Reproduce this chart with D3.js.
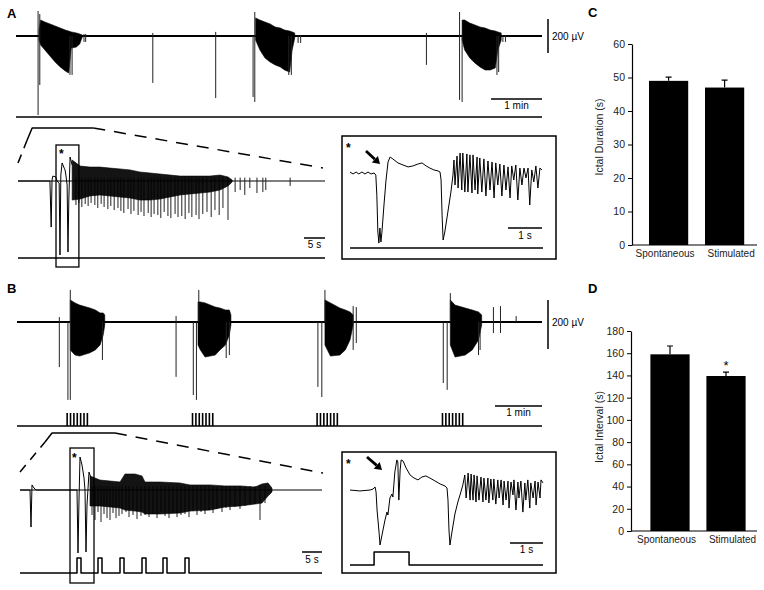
<!DOCTYPE html>
<html>
<head>
<meta charset="utf-8">
<script src="https://cdn.jsdelivr.net/npm/d3@7/dist/d3.min.js"></script>
<style>
body { margin: 0; background: #fff; }
svg { display: block; font-family: "Liberation Sans", Arial, sans-serif; }
</style>
</head>
<body>
<div id="chart"></div>
<script>
// ---- panel A, long recording (t in s, v in uV) ----
const A1_span = [0, 619]
const A1_bursts = [
    [[27,35,-24],[29,94,-53],[34,82,-82],[40,71,-118],[46,59,-153],[52,47,-182],[58,35,-206],[62,29,-218],[65,24,-71],[71,18,-65],[75,12,-47],[78,6,-6]],
    [[282,106,-24],[287,94,-82],[293,82,-129],[299,71,-153],[305,53,-170],[311,47,-182],[316,35,-200],[322,29,-212],[325,24,-82],[328,18,-12]],
    [[525,94,-24],[528,94,-82],[534,76,-129],[540,65,-159],[546,53,-182],[552,47,-200],[558,35,-200],[564,29,-188],[567,24,-82],[571,18,-24]]
]
const A1_spikes = [[26,-465,147],[28,-288,129],[63.5,-229,0],[66,-229,0],[80,-35,12],[82,-35,12],[161,-276,18],[235,-365,24],
    [279,-359,0],[281,-388,141],[321,-229,0],[324,-229,0],[332,-41,6],[335,-41,6],[483,-170,18],[522,-376,141],[525,-388,0],
    [566,-229,0],[568,-212,0],[573,-35,6],[576,-35,6]]
const A_zoomWindow = [19, 91]

// ---- panel A, expanded seizure ----
const A2_span = [0, 73.1]
const A2_onset = [[0,0],[7.6,0],[7.9,-271],[8.1,6],[8.3,29],[9.0,24],[9.3,0],[9.8,-12],[10.0,-435],[10.2,35],[10.5,106],
    [11.0,76],[11.2,65],[11.4,35],[11.7,-24],[11.9,-418],[12.1,-112],[12.4,141],[12.9,94]]
const A2_core = [[12.9,123,-112],[14.8,88,-106],[17.1,82,-88],[19.5,82,-82],[21.9,76,-88],[24.3,71,-94],[26.7,65,-100],
    [29.0,53,-112],[31.4,47,-112],[33.8,41,-106],[36.2,35,-94],[38.6,29,-82],[41.0,29,-76],[43.3,29,-71],[45.7,29,-65],
    [48.1,35,-53],[50.0,24,-29],[51.0,6,-6]]
const A2_spikes = [[13.8,-141],[14.5,-129],[15.2,-153],[16.0,-135],[16.7,-147],[17.4,-129],[18.3,-141],[19.0,-159],[19.8,-135],
    [20.5,-153],[21.4,-165],[22.1,-147],[22.9,-171],[23.8,-159],[24.5,-176],[25.2,-188],[26.2,-165],[26.9,-194],[27.6,-176],
    [28.6,-200],[29.3,-182],[30.0,-206],[31.0,-188],[31.7,-212],[32.4,-194],[33.3,-200],[34.0,-218],[34.8,-182],[35.7,-206],
    [36.4,-218],[37.4,-194],[38.1,-212],[39.0,-206],[39.8,-224],[40.7,-188],[41.4,-212],[42.4,-200],[43.1,-224],[44.0,-194],
    [45.0,-182],[46.0,-212],[46.9,-171],[47.9,-200],[48.8,-159],[50.0,-229],[51.7,-65],[52.9,-53],[54.0,-82],[55.2,-41],
    [56.9,-71],[58.3,-65],[59.0,-53],[64.8,-29]]
const A_insetWindow = [9.05, 14.5]

// ---- panel A, inset ----
const A3_span = [0, 5.68]
const A3_trace = [[0,6],[0.09,-6],[0.18,6],[0.26,-6],[0.35,6],[0.44,-6],[0.53,6],[0.62,-6],[0.71,0],[0.76,-13],[0.79,-138],
    [0.82,-369],[0.85,-438],[0.88,-344],[0.91,-431],[0.94,-369],[1.0,-200],[1.06,-44],[1.12,69],[1.18,100],[1.26,88],[1.41,63],
    [1.56,50],[1.71,38],[1.85,44],[2.0,56],[2.12,63],[2.24,44],[2.35,31],[2.47,19],[2.59,13],[2.65,6],[2.68,-44],[2.71,-263],
    [2.74,-419],[2.79,-369],[2.88,-244],[2.97,-119],[3.03,-13],[3.06,81],[3.09,-75],[3.15,106],[3.18,-94],[3.24,125],[3.29,-106],
    [3.32,125],[3.38,-119],[3.44,119],[3.47,-119],[3.53,113],[3.59,-125],[3.62,113],[3.68,-106],[3.74,100],[3.76,-131],[3.82,94],
    [3.88,-119],[3.94,88],[4.0,-144],[4.06,75],[4.12,-106],[4.18,69],[4.24,-156],[4.29,63],[4.35,-75],[4.41,56],[4.47,-144],
    [4.53,50],[4.59,-106],[4.65,38],[4.71,-156],[4.76,44],[4.82,-44],[4.88,50],[4.94,-169],[5.0,31],[5.06,-75],[5.12,31],
    [5.18,-31],[5.24,31],[5.29,-200],[5.35,19],[5.41,-56],[5.47,44],[5.53,-94],[5.59,31],[5.65,19]]

// ---- panel B, long recording ----
const B1_span = [0, 670]
const B1_bursts = [
    [[68,90,-114],[74,78,-135],[80,69,-139],[93,57,-126],[100,49,-114],[106,37,-94],[110,37,-53],[112,29,-12]],
    [[231,82,-94],[234,82,-114],[240,78,-143],[253,61,-135],[259,57,-114],[266,49,-94],[271,49,-53],[273,29,-12]],
    [[393,90,-94],[400,78,-139],[412,57,-135],[419,49,-114],[425,41,-73],[429,29,-12]],
    [[553,90,-94],[559,69,-143],[572,57,-135],[581,49,-114],[589,41,-73],[593,29,-12]]
]
const B1_spikes = [[54,-184,20],[65,-318,0],[68,-318,131],[109,-155,0],[203,-224,24],[225,-298,0],[229,-318,0],[232,0,131],
    [267,-147,0],[271,-135,0],[384,-265,0],[389,-306,0],[393,0,131],[429,-114,65],[433,-86,61],[544,-249,0],[549,-277,0],
    [553,0,118],[589,-135,0],[591,-114,0],[608,-45,61],[617,-45,65],[637,0,24]]
const B1_trainStarts = [64, 224, 383, 543]
const B1_pulseOffsets = [0, 4.3, 8.6, 12.9, 17.2, 21.5, 25.8]
const B_zoomWindow = [44.7, 125]

// ---- panel B, expanded seizure ----
const B2_span = [0, 75.5]
const B2_onset = [[0,0],[2.5,0],[2.75,-190],[3.0,26],[3.5,10],[4.0,0],[14.25,0],[14.5,-323],[14.75,-51],[15.0,169],[15.5,128],
    [16.0,62],[16.25,0],[16.5,-318],[16.75,-77],[17.25,92],[17.75,62]]
const B2_core = [[17.5,72,-82],[20,51,-82],[22.5,46,-87],[25,41,-92],[26.25,82,-103],[28.75,82,-108],[30.5,72,-113],
    [31.25,41,-123],[35,41,-123],[40,36,-118],[42.5,26,-108],[47.5,26,-103],[51.25,21,-87],[55,21,-82],[58.75,15,-72],
    [60.5,31,-67],[62,36,-31],[63,10,-10]]
const B2_spikes = [[18,-128],[18.75,-154],[19.5,-113],[20.25,-164],[21,-123],[21.75,-144],[22.5,-154],[23.25,-118],[24,-144],
    [24.75,-133],[25.5,-123],[26.5,-113],[27.25,-139],[28.25,-128],[29.25,-149],[30.25,-133],[31.25,-128],[32.25,-139],
    [33.25,-123],[34.25,-144],[35.25,-113],[36.25,-133],[37.25,-144],[38.25,-118],[39.25,-139],[40.25,-128],[41.25,-123],
    [42.25,-139],[43.25,-108],[44.25,-128],[45.25,-113],[46.25,-123],[47.25,-103],[48.25,-118],[49.25,-97],[50.5,-113],
    [51.5,-92],[52.5,-103],[53.75,-87],[55,-97],[56.25,-82],[57.5,-77],[58.75,-72],[60,-154],[61.25,-67]]
const B2_pulses = [14.25, 19.5, 25, 30.5, 35.75, 41.25]
const B_insetWindow = [12.5, 18.5]

// ---- panel B, inset ----
const B3_span = [0, 5.85]
const B3_trace = [[0,0],[0.30,-6],[0.61,0],[0.70,6],[0.76,19],[0.79,-13],[0.82,-125],[0.88,-263],[0.91,-344],[0.97,-281],
    [1.06,-188],[1.12,-138],[1.15,-156],[1.21,-50],[1.27,-25],[1.30,-44],[1.36,113],[1.42,188],[1.45,175],[1.48,-63],
    [1.52,125],[1.55,188],[1.61,181],[1.70,138],[1.82,94],[1.94,75],[2.06,63],[2.18,81],[2.30,88],[2.42,75],[2.58,56],
    [2.73,38],[2.88,25],[2.94,13],[2.97,-63],[3.00,-250],[3.03,-344],[3.09,-263],[3.18,-150],[3.27,-75],[3.36,-13],[3.42,31],
    [3.48,94],[3.52,-50],[3.58,106],[3.64,-63],[3.67,100],[3.73,-63],[3.76,94],[3.82,-75],[3.85,88],[3.91,-63],[3.97,81],
    [4.03,-75],[4.06,75],[4.12,-63],[4.18,75],[4.21,-81],[4.27,69],[4.33,-63],[4.36,69],[4.42,-88],[4.48,63],[4.52,-50],
    [4.58,63],[4.64,-94],[4.67,56],[4.73,-63],[4.79,56],[4.82,-113],[4.88,50],[4.94,-31],[4.97,63],[5.03,-125],[5.09,50],
    [5.12,-50],[5.18,56],[5.24,-138],[5.30,44],[5.33,-63],[5.39,63],[5.45,-113],[5.48,44],[5.55,-50],[5.61,56],[5.64,-94],
    [5.70,50],[5.76,-50],[5.79,63],[5.85,44]]
const B3_pulse = [0.73, 1.79]

// ---- panels C and D ----
const categories = ["Spontaneous", "Stimulated"]
const durationMeans = [49, 47]
const durationErrors = [1.1, 2.2]
const durationTicks = [0, 10, 20, 30, 40, 50, 60]
const intervalMeans = [159, 139.5]
const intervalErrors = [7.5, 3.5]
const intervalTicks = [0, 20, 40, 60, 80, 100, 120, 140, 160, 180]

const svg = d3.select("#chart").append("svg")
    .attr("width", 764)
    .attr("height", 590)

svg.append("rect").attr("width", 764).attr("height", 590).attr("fill", "#fff")

function linePath(x, y) {
    return d3.line().x(d => x(d[0])).y(d => y(d[1]))
}

function drawPolyline(pts, x, y, width, dash) {
    svg.append("path").datum(pts)
        .attr("d", linePath(x, y))
        .attr("fill", "none")
        .attr("stroke", "#000")
        .attr("stroke-width", width)
        .attr("stroke-linejoin", "round")
        .attr("stroke-dasharray", dash || null)
}

function drawBursts(bursts, x, y, opacity) {
    const area = d3.area().x(d => x(d[0])).y0(d => y(d[2])).y1(d => y(d[1]))
    svg.append("g").selectAll("path")
        .data(bursts)
        .join("path")
        .attr("d", area)
        .attr("fill", "#000")
        .attr("fill-opacity", opacity || 1)
        .attr("stroke", "#000")
        .attr("stroke-width", 0.6)
}

function drawSpikes(spikes, x, y, top, color) {
    svg.append("g").selectAll("line")
        .data(spikes)
        .join("line")
        .attr("x1", d => x(d[0]))
        .attr("x2", d => x(d[0]))
        .attr("y1", d => y(d[1]))
        .attr("y2", d => y(d.length > 2 ? d[2] : top))
        .attr("stroke", color)
        .attr("stroke-width", 1)
}

function label(x, y, txt, size, anchor, weight) {
    svg.append("text")
        .attr("x", x).attr("y", y)
        .attr("font-size", size)
        .attr("text-anchor", anchor || "start")
        .attr("font-weight", weight || "normal")
        .text(txt)
}

function hbar(x0, x1, y) {
    svg.append("line").attr("x1", x0).attr("x2", x1).attr("y1", y).attr("y2", y)
        .attr("stroke", "#000").attr("stroke-width", 1.5)
}

function vbar(x, y0, y1) {
    svg.append("line").attr("x1", x).attr("x2", x).attr("y1", y0).attr("y2", y1)
        .attr("stroke", "#000").attr("stroke-width", 1.5)
}

function arrow(x0, y0, x1, y1) {
    const len = Math.hypot(x1 - x0, y1 - y0)
    const ux = (x1 - x0) / len, uy = (y1 - y0) / len
    const bx = x1 - ux * 7, by = y1 - uy * 7
    svg.append("line").attr("x1", x0).attr("y1", y0).attr("x2", bx).attr("y2", by)
        .attr("stroke", "#000").attr("stroke-width", 2.8)
    svg.append("path")
        .attr("d", `M${x1},${y1}L${bx - uy * 4.5},${by + ux * 4.5}L${bx + uy * 4.5},${by - ux * 4.5}Z`)
        .attr("fill", "#000")
}

// ================= A =================
label(7, 18, "A", 13, "start", "bold")

const xA1 = d3.scaleLinear().domain(A1_span).range([16, 542])
const yA1 = d3.scaleLinear().domain([0, 200]).range([36, 2])
drawPolyline([[A1_span[0], 0], [A1_span[1], 0]], xA1, yA1, 2)
drawBursts(A1_bursts, xA1, yA1)
drawSpikes(A1_spikes, xA1, yA1, 0, "#222")
vbar(548, yA1(100), yA1(-100))
label(552, 40, "200 µV", 10)
hbar(xA1(A1_span[1] - 60), xA1(A1_span[1]), 99)
label((xA1(A1_span[1] - 60) + xA1(A1_span[1])) / 2, 109, "1 min", 10, "middle")
hbar(xA1(A1_span[0]), xA1(A1_span[1]), 117)

// expanded trace
const xA2 = d3.scaleLinear().domain(A2_span).range([18, 325])
const yA2 = d3.scaleLinear().domain([0, 200]).range([181, 147])

const aL = xA1(A_zoomWindow[0]), aR = xA1(A_zoomWindow[1])
drawPolyline([[xA2(0), 163], [aL - 5, 140]], d => d, d => d, 1.5, "9,7")
drawPolyline([[aL - 5, 140], [aL, 128], [aR, 128]], d => d, d => d, 1.5)
drawPolyline([[aR, 128], [xA2(A2_span[1]) - 2, 168]], d => d, d => d, 1.5, "12,9")

drawPolyline([[A2_span[0], 0], [A2_span[1], 0]], xA2, yA2, 1)
drawPolyline(A2_onset, xA2, yA2, 1)
drawSpikes(A2_spikes, xA2, yA2, 20, "#222")
drawBursts([A2_core], xA2, yA2, 0.92)
svg.append("rect")
    .attr("x", xA2(A_insetWindow[0])).attr("y", 145)
    .attr("width", xA2(A_insetWindow[1]) - xA2(A_insetWindow[0])).attr("height", 122)
    .attr("fill", "none").attr("stroke", "#000").attr("stroke-width", 1.3)
label(xA2(A_insetWindow[0]) + 3, 158, "*", 12, "start", "bold")
hbar(xA2(A2_span[1] - 5), xA2(A2_span[1]), 238)
label((xA2(A2_span[1] - 5) + xA2(A2_span[1])) / 2, 248, "5 s", 10, "middle")
hbar(xA2(A2_span[0]), xA2(A2_span[1]), 258)

// inset
svg.append("rect").attr("x", 342).attr("y", 136).attr("width", 214).attr("height", 123)
    .attr("fill", "none").attr("stroke", "#000").attr("stroke-width", 1.5)
const xA3 = d3.scaleLinear().domain(A3_span).range([350, 543])
const yA3 = d3.scaleLinear().domain([0, 200]).range([173, 141])
drawPolyline(A3_trace, xA3, yA3, 1)
label(346, 152, "*", 12, "start", "bold")
arrow(366, 151, 380, 164)
hbar(xA3(A3_span[1] - 1.03), xA3(A3_span[1] - 0.03), 228)
label((xA3(A3_span[1] - 1.03) + xA3(A3_span[1] - 0.03)) / 2, 239, "1 s", 10, "middle")
hbar(xA3(A3_span[0]), xA3(A3_span[1]), 248)

// ================= B =================
label(7, 293, "B", 13, "start", "bold")

const xB1 = d3.scaleLinear().domain(B1_span).range([17, 542])
const yB1 = d3.scaleLinear().domain([0, 200]).range([322, 273])
drawPolyline([[B1_span[0], 0], [B1_span[1], 0]], xB1, yB1, 2)
drawBursts(B1_bursts, xB1, yB1)
drawSpikes(B1_spikes, xB1, yB1, 0, "#222")
vbar(548, yB1(90), yB1(-110))
label(552, 326, "200 µV", 10)
hbar(xB1(B1_span[1] - 60), xB1(B1_span[1]), 406)
label((xB1(B1_span[1] - 60) + xB1(B1_span[1])) / 2, 416, "1 min", 10, "middle")

const stimB1 = B1_trainStarts.flatMap(s => B1_pulseOffsets.map(o => s + o))
svg.append("g").selectAll("line")
    .data(stimB1)
    .join("line")
    .attr("x1", d => xB1(d)).attr("x2", d => xB1(d))
    .attr("y1", 413).attr("y2", 426)
    .attr("stroke", "#000").attr("stroke-width", 1.6)
hbar(xB1(B1_span[0]), xB1(B1_span[1]), 426)

// expanded trace
const xB2 = d3.scaleLinear().domain(B2_span).range([20, 322])
const yB2 = d3.scaleLinear().domain([0, 200]).range([490, 451])

const bL = xB1(B_zoomWindow[0]), bR = xB1(B_zoomWindow[1])
drawPolyline([[xB2(0), 472], [bL - 7, 442]], d => d, d => d, 1.5, "9,7")
drawPolyline([[bL - 7, 442], [bL, 433], [bR, 433]], d => d, d => d, 1.5)
drawPolyline([[bR, 433], [xB2(B2_span[1]) + 1, 473]], d => d, d => d, 1.5, "12,9")

drawPolyline([[B2_span[0], 0], [B2_span[1], 0]], xB2, yB2, 1)
drawPolyline(B2_onset, xB2, yB2, 1)
drawSpikes(B2_spikes, xB2, yB2, 20, "#222")
drawBursts([B2_core], xB2, yB2, 0.92)
svg.append("rect")
    .attr("x", xB2(B_insetWindow[0])).attr("y", 448)
    .attr("width", xB2(B_insetWindow[1]) - xB2(B_insetWindow[0])).attr("height", 135)
    .attr("fill", "none").attr("stroke", "#000").attr("stroke-width", 1.3)
label(xB2(B_insetWindow[0]) + 2, 462, "*", 12, "start", "bold")
hbar(xB2(B2_span[1] - 5), xB2(B2_span[1]), 552)
label((xB2(B2_span[1] - 5) + xB2(B2_span[1])) / 2, 563, "5 s", 10, "middle")

const yStim2 = d3.scaleLinear().domain([0, 1]).range([573, 558])
const stimB2 = [[B2_span[0], 0]].concat(
    B2_pulses.flatMap(p => [[p, 0], [p, 1], [p + 1, 1], [p + 1, 0]]),
    [[B2_span[1], 0]])
drawPolyline(stimB2, xB2, yStim2, 1.5)

// inset
svg.append("rect").attr("x", 342).attr("y", 452).attr("width", 214).attr("height", 121)
    .attr("fill", "none").attr("stroke", "#000").attr("stroke-width", 1.5)
const xB3 = d3.scaleLinear().domain(B3_span).range([350, 543])
const yB3 = d3.scaleLinear().domain([0, 200]).range([490, 458])
drawPolyline(B3_trace, xB3, yB3, 1)
label(346, 468, "*", 12, "start", "bold")
arrow(367, 457, 382, 470)
hbar(xB3(B3_span[1] - 1), xB3(B3_span[1]), 543)
label((xB3(B3_span[1] - 1) + xB3(B3_span[1])) / 2, 553, "1 s", 10, "middle")
const yStim3 = d3.scaleLinear().domain([0, 1]).range([565, 552])
drawPolyline([[B3_span[0], 0], [B3_pulse[0], 0], [B3_pulse[0], 1], [B3_pulse[1], 1], [B3_pulse[1], 0], [B3_span[1], 0]],
    xB3, yStim3, 1.5)

// ================= C and D =================
const catShift = [-3.5, 6.5]

function barPanel(opts) {
    const y = d3.scaleLinear().domain([0, opts.ticks[opts.ticks.length - 1]]).range(opts.yRange)
    const x = d3.scaleBand().domain(categories).range(opts.xRange).paddingInner(0.3).paddingOuter(0.15)
    const g = svg.append("g")

    g.selectAll("rect")
        .data(opts.means)
        .join("rect")
        .attr("x", (d, i) => x(categories[i]))
        .attr("y", d => y(d))
        .attr("width", x.bandwidth())
        .attr("height", d => y(0) - y(d))
        .attr("fill", "#000")

    g.selectAll(".err")
        .data(opts.means)
        .join("path")
        .attr("class", "err")
        .attr("d", (d, i) => {
            const cx = x(categories[i]) + x.bandwidth() / 2
            const top = y(d + opts.errors[i])
            return `M${cx},${y(d)}V${top}M${cx - 3},${top}H${cx + 3}`
        })
        .attr("stroke", "#000")
        .attr("stroke-width", 1.2)
        .attr("fill", "none")

    const axis = g.append("g")
        .attr("transform", `translate(${opts.axisX},0)`)
        .call(d3.axisLeft(y).tickValues(opts.ticks).tickSize(4).tickSizeOuter(0).tickPadding(3))
    axis.selectAll("text").attr("font-size", 10.5).attr("font-family", "Liberation Sans, Arial, sans-serif").attr("fill", "#222")
    axis.select(".domain").attr("stroke-width", 1.2)

    g.append("line")
        .attr("x1", opts.axisX).attr("x2", 757)
        .attr("y1", y(0)).attr("y2", y(0))
        .attr("stroke", "#000").attr("stroke-width", 1.2)

    g.selectAll(".cat")
        .data(categories)
        .join("text")
        .attr("class", "cat")
        .attr("x", (d, i) => x(d) + x.bandwidth() / 2 + catShift[i])
        .attr("y", opts.catY)
        .attr("text-anchor", "middle")
        .attr("font-size", 10)
        .attr("fill", "#222")
        .text(d => d)

    g.append("text")
        .attr("transform", `translate(603,${opts.labelY}) rotate(-90)`)
        .attr("text-anchor", "middle")
        .attr("font-size", 10.5)
        .attr("fill", "#222")
        .text(opts.title)

    if (opts.starIndex != null) {
        const i = opts.starIndex
        g.append("text")
            .attr("x", x(categories[i]) + x.bandwidth() / 2)
            .attr("y", y(opts.means[i] + opts.errors[i]) - 2)
            .attr("text-anchor", "middle")
            .attr("font-size", 13)
            .text("*")
    }
}

label(588, 17, "C", 13, "start", "bold")
barPanel({
    means: durationMeans, errors: durationErrors, ticks: durationTicks,
    yRange: [245, 44], xRange: [640.6, 752.6], axisX: 632,
    catY: 257, labelY: 137, title: "Ictal Duration (s)"
})

label(588, 293, "D", 13, "start", "bold")
barPanel({
    means: intervalMeans, errors: intervalErrors, ticks: intervalTicks,
    yRange: [531, 331], xRange: [642, 754], axisX: 631,
    catY: 543, labelY: 427, title: "Ictal Interval (s)", starIndex: 1
})
</script>
</body>
</html>
